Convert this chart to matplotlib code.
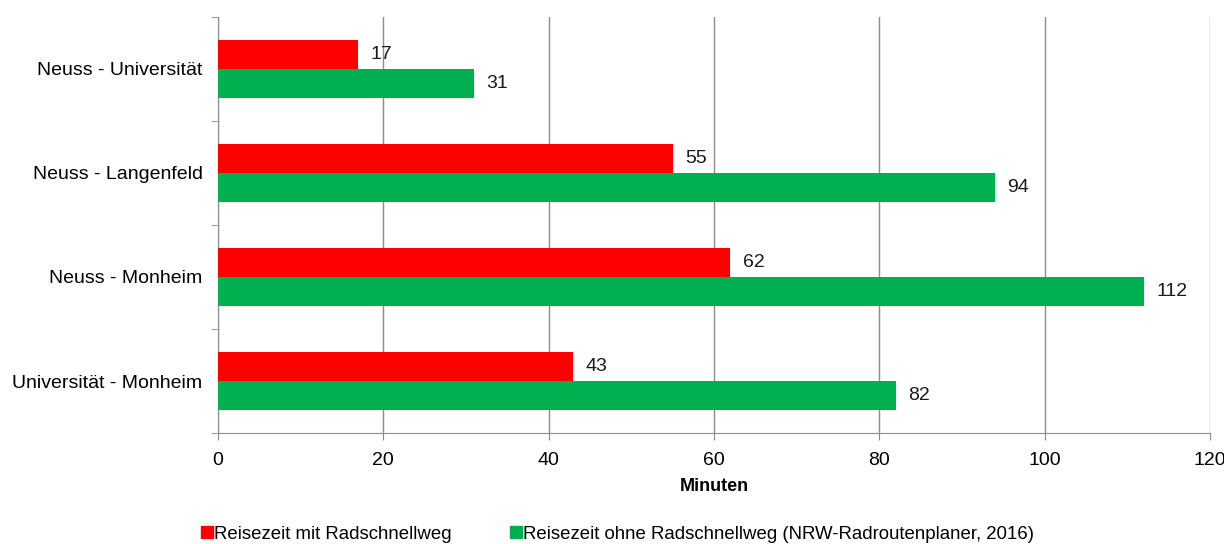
import matplotlib.pyplot as plt
import numpy as np
from matplotlib.lines import Line2D

plt.rcParams['font.family'] = ['Liberation Sans', 'DejaVu Sans']

# Routes and travel times (minutes)
routes = ['Neuss - Universität', 'Neuss - Langenfeld', 'Neuss - Monheim', 'Universität - Monheim']
with_rsw = [17, 55, 62, 43]
without_rsw = [31, 94, 112, 82]
series_names = ['Reisezeit mit Radschnellweg',
                'Reisezeit ohne Radschnellweg (NRW-Radroutenplaner, 2016)']
colors = ['#FF0000', '#00B050']

fig = plt.figure(figsize=(12.24, 5.44), dpi=100)
ax = fig.add_axes([0.178, 0.204, 0.8106, 0.765])

y = np.arange(len(routes))
h = 0.28
b1 = ax.barh(y - h / 2, with_rsw, height=h, color=colors[0], zorder=3)
b2 = ax.barh(y + h / 2, without_rsw, height=h, color=colors[1], zorder=3)
ax.bar_label(b1, padding=9, fontsize=14, color='#1a1a1a')
ax.bar_label(b2, padding=9, fontsize=14, color='#1a1a1a')

ax.set_xlim(0, 120)
ax.set_ylim(len(routes) - 0.5, -0.5)
ax.set_xticks(range(0, 121, 20))
ax.tick_params(axis='x', labelsize=14, length=5, color='#8c8c8c', pad=9)
ax.set_yticks(y)
ax.set_yticklabels(routes, fontsize=14)
ax.tick_params(axis='y', which='major', length=0, pad=11)
ax.set_yticks(np.arange(-0.5, len(routes)), minor=True)
ax.tick_params(axis='y', which='minor', length=5, color='#8c8c8c')
ax.grid(axis='x', color='#8c8c8c', linewidth=1, zorder=0)

for side in ['top', 'right']:
    ax.spines[side].set_visible(False)
for side in ['left', 'bottom']:
    ax.spines[side].set_color('#8c8c8c')

ax.set_xlabel('Minuten', fontsize=13, fontweight='bold', labelpad=6)

handles = [Line2D([], [], marker='s', linestyle='none', markersize=8, color=c) for c in colors]
fig.legend(handles, series_names, loc='center', bbox_to_anchor=(0.505, 0.018), ncol=2,
           frameon=False, fontsize=13.4, handletextpad=0.15, columnspacing=3.2,
           handlelength=0.5)

fig.savefig('out.png', dpi=100)
